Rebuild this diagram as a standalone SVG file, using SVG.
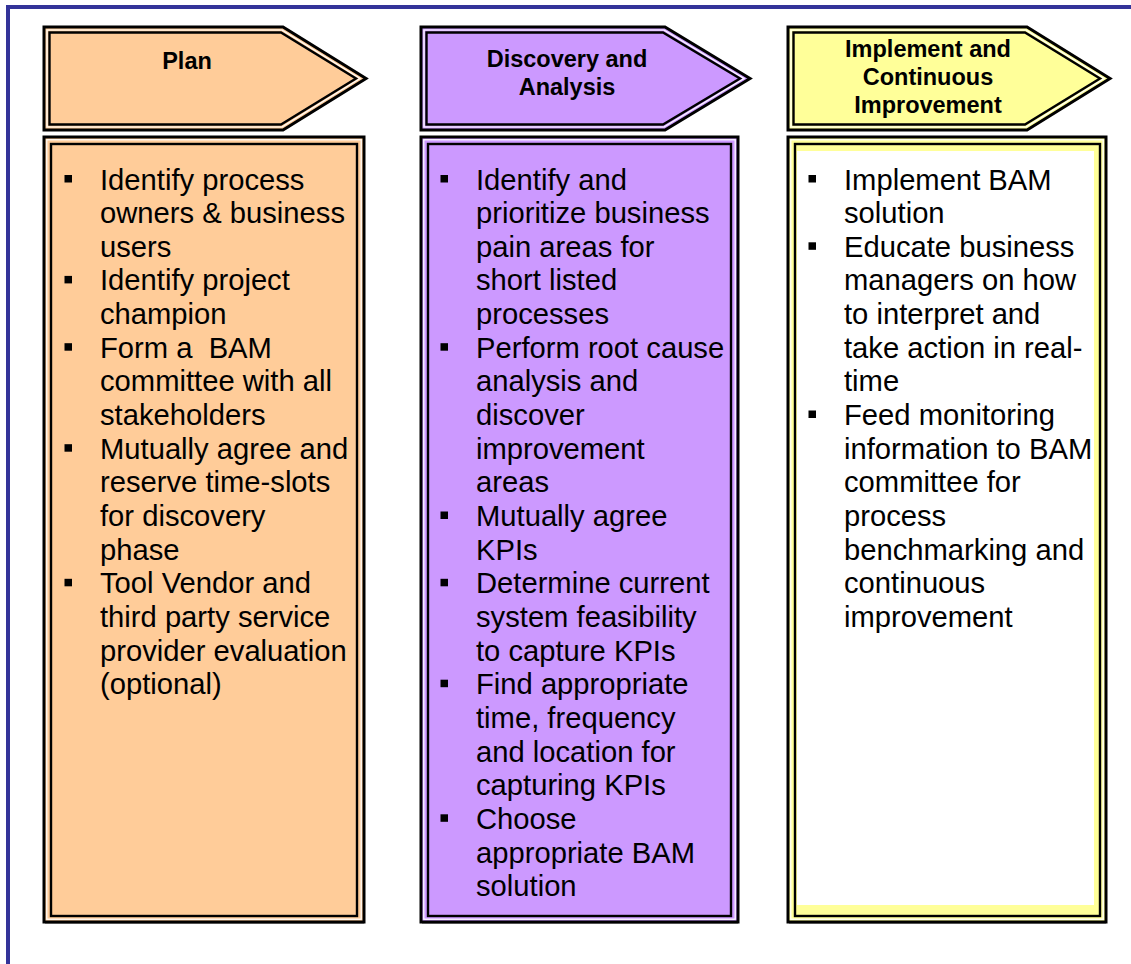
<svg xmlns="http://www.w3.org/2000/svg" width="1131" height="964" viewBox="0 0 1131 964">
<style>
.frame{fill:none;stroke:#333399;stroke-width:4}
.outer{fill:none;stroke:#000;stroke-width:3}
.white{fill:none;stroke:#fff;stroke-width:1.2}
.inner{fill:none;stroke:#000;stroke-width:2.4}
.shadow{fill:none;stroke:#888;stroke-width:1.5}
.hd{font-family:"Liberation Sans",Arial,sans-serif;font-weight:bold;font-size:23.5px;fill:#000;text-anchor:middle}
.tx{font-family:"Liberation Sans",Arial,sans-serif;font-size:29.2px;fill:#000;white-space:pre}
.bl{fill:#000}
</style>
<rect width="1131" height="964" fill="#fff"/>
<path class="frame" d="M8,964 V7 H1131"/>

<g id="plan-header">
<path d="M44,27 H283 L366,78.5 L283,130 H44 Z" fill="#FFCC99"/>
<path class="outer" d="M44,27 H283 L366,78.5 L283,130 H44 Z"/>
<path class="white" d="M47,30 H282 L360,78.5 L282,127 H47 Z"/>
<path class="inner" d="M49.5,32.5 H281 L356,78.5 L281,124.5 H49.5 Z"/>
<text class="hd" x="187" y="69">Plan</text>
</g>
<g id="discovery-header">
<path d="M421,27 H665 L750,78.5 L665,130 H421 Z" fill="#CC99FF"/>
<path class="outer" d="M421,27 H665 L750,78.5 L665,130 H421 Z"/>
<path class="white" d="M424,30 H664 L744,78.5 L664,127 H424 Z"/>
<path class="inner" d="M426.5,32.5 H663 L740,78.5 L663,124.5 H426.5 Z"/>
<text class="hd" x="567" y="67">Discovery and</text>
<text class="hd" x="567" y="95">Analysis</text>
</g>
<g id="implement-header">
<path d="M788,27 H1027 L1110,78.5 L1027,130 H788 Z" fill="#FFFF99"/>
<path class="outer" d="M788,27 H1027 L1110,78.5 L1027,130 H788 Z"/>
<path class="white" d="M791,30 H1026 L1104,78.5 L1026,127 H791 Z"/>
<path class="inner" d="M793.5,32.5 H1025 L1100,78.5 L1025,124.5 H793.5 Z"/>
<text class="hd" x="928" y="57">Implement and</text>
<text class="hd" x="928" y="85">Continuous</text>
<text class="hd" x="928" y="112.5">Improvement</text>
</g>

<g id="plan-box">
<rect x="44" y="137" width="320" height="785" fill="#FFCC99"/>
<path class="shadow" d="M45,923 H364"/>
<rect class="outer" x="44" y="137" width="320" height="785"/>
<rect class="white" x="46.8" y="139.8" width="314.4" height="779.4"/>
<rect class="inner" x="51" y="144" width="306" height="772"/>
<rect class="bl" x="64.5" y="175" width="7.5" height="7.5"/>
<rect class="bl" x="64.5" y="275.9" width="7.5" height="7.5"/>
<rect class="bl" x="64.5" y="343.2" width="7.5" height="7.5"/>
<rect class="bl" x="64.5" y="444.2" width="7.5" height="7.5"/>
<rect class="bl" x="64.5" y="578.8" width="7.5" height="7.5"/>
<text class="tx" x="100" y="189.5">Identify process</text>
<text class="tx" x="100" y="223.15">owners &amp; business</text>
<text class="tx" x="100" y="256.8">users</text>
<text class="tx" x="100" y="290.45">Identify project</text>
<text class="tx" x="100" y="324.1">champion</text>
<text class="tx" x="100" y="357.75">Form a  BAM</text>
<text class="tx" x="100" y="391.4">committee with all</text>
<text class="tx" x="100" y="425.05">stakeholders</text>
<text class="tx" x="100" y="458.7">Mutually agree and</text>
<text class="tx" x="100" y="492.35">reserve time-slots</text>
<text class="tx" x="100" y="526">for discovery</text>
<text class="tx" x="100" y="559.65">phase</text>
<text class="tx" x="100" y="593.3">Tool Vendor and</text>
<text class="tx" x="100" y="626.95">third party service</text>
<text class="tx" x="100" y="660.6">provider evaluation</text>
<text class="tx" x="100" y="694.25">(optional)</text>
</g>

<g id="discovery-box">
<rect x="421" y="137" width="317" height="785" fill="#CC99FF"/>
<path class="shadow" d="M422,923 H738"/>
<rect class="outer" x="421" y="137" width="317" height="785"/>
<rect class="white" x="423.8" y="139.8" width="311.4" height="779.4"/>
<rect class="inner" x="428" y="144" width="303" height="772"/>
<rect class="bl" x="440.5" y="175" width="7.5" height="7.5"/>
<rect class="bl" x="440.5" y="343.2" width="7.5" height="7.5"/>
<rect class="bl" x="440.5" y="511.5" width="7.5" height="7.5"/>
<rect class="bl" x="440.5" y="578.8" width="7.5" height="7.5"/>
<rect class="bl" x="440.5" y="679.7" width="7.5" height="7.5"/>
<rect class="bl" x="440.5" y="814.3" width="7.5" height="7.5"/>
<text class="tx" x="476" y="189.5">Identify and</text>
<text class="tx" x="476" y="223.15">prioritize business</text>
<text class="tx" x="476" y="256.8">pain areas for</text>
<text class="tx" x="476" y="290.45">short listed</text>
<text class="tx" x="476" y="324.1">processes</text>
<text class="tx" x="476" y="357.75">Perform root cause</text>
<text class="tx" x="476" y="391.4">analysis and</text>
<text class="tx" x="476" y="425.05">discover</text>
<text class="tx" x="476" y="458.7">improvement</text>
<text class="tx" x="476" y="492.35">areas</text>
<text class="tx" x="476" y="526">Mutually agree</text>
<text class="tx" x="476" y="559.65">KPIs</text>
<text class="tx" x="476" y="593.3">Determine current</text>
<text class="tx" x="476" y="626.95">system feasibility</text>
<text class="tx" x="476" y="660.6">to capture KPIs</text>
<text class="tx" x="476" y="694.25">Find appropriate</text>
<text class="tx" x="476" y="727.9">time, frequency</text>
<text class="tx" x="476" y="761.55">and location for</text>
<text class="tx" x="476" y="795.2">capturing KPIs</text>
<text class="tx" x="476" y="828.85">Choose</text>
<text class="tx" x="476" y="862.5">appropriate BAM</text>
<text class="tx" x="476" y="896.15">solution</text>
</g>

<g id="implement-box">
<rect x="788" y="137" width="318" height="785" fill="#FFFF99"/>
<rect x="797" y="151" width="297" height="754" fill="#fff"/>
<path class="shadow" d="M789,923 H1106"/>
<rect class="outer" x="788" y="137" width="318" height="785"/>
<rect class="white" x="790.8" y="139.8" width="312.4" height="779.4"/>
<rect class="inner" x="795" y="144" width="305" height="772"/>
<rect class="bl" x="808.5" y="175" width="7.5" height="7.5"/>
<rect class="bl" x="808.5" y="242.3" width="7.5" height="7.5"/>
<rect class="bl" x="808.5" y="410.5" width="7.5" height="7.5"/>
<text class="tx" x="844" y="189.5">Implement BAM</text>
<text class="tx" x="844" y="223.15">solution</text>
<text class="tx" x="844" y="256.8">Educate business</text>
<text class="tx" x="844" y="290.45">managers on how</text>
<text class="tx" x="844" y="324.1">to interpret and</text>
<text class="tx" x="844" y="357.75">take action in real-</text>
<text class="tx" x="844" y="391.4">time</text>
<text class="tx" x="844" y="425.05">Feed monitoring</text>
<text class="tx" x="844" y="458.7">information to BAM</text>
<text class="tx" x="844" y="492.35">committee for</text>
<text class="tx" x="844" y="526">process</text>
<text class="tx" x="844" y="559.65">benchmarking and</text>
<text class="tx" x="844" y="593.3">continuous</text>
<text class="tx" x="844" y="626.95">improvement</text>
</g>
</svg>
